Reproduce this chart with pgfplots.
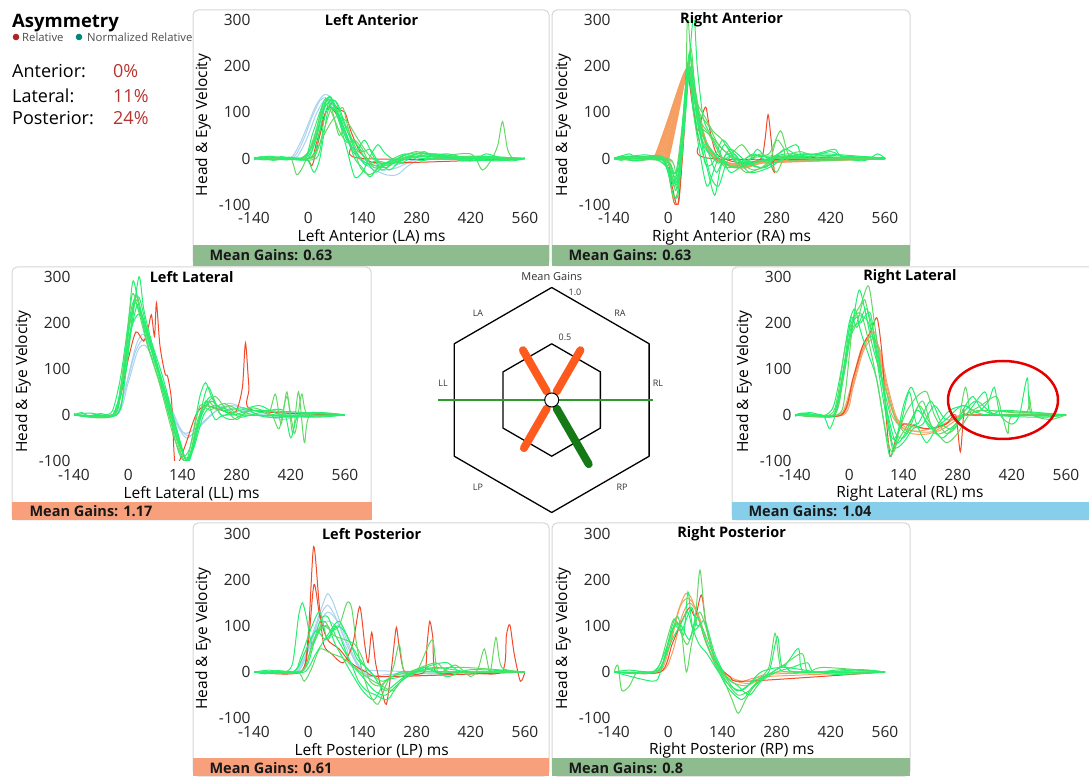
\documentclass[border=0pt]{standalone}
\usepackage{pgfplots}
\pgfplotsset{compat=1.18}
\usepackage{fontspec}
\setmainfont{Open Sans}
\definecolor{cardb}{HTML}{D6D6D6}
\definecolor{barG}{HTML}{8FBC8F}
\definecolor{barS}{HTML}{F8A07C}
\definecolor{barB}{HTML}{87CEEB}
\definecolor{gB}{HTML}{22F06E}
\definecolor{gM}{HTML}{64D864}
\definecolor{hB}{HTML}{A8D2EE}
\definecolor{hO}{HTML}{F5A062}
\definecolor{rR}{HTML}{F24A2A}
\definecolor{pctR}{HTML}{B8332E}
\definecolor{barOr}{HTML}{FF5A1E}
\definecolor{barDG}{HTML}{157A15}
\definecolor{lineG}{HTML}{2E9A2E}
\definecolor{dotR}{HTML}{B22222}
\definecolor{dotT}{HTML}{00897B}
\newcommand{\fs}[1]{\fontsize{#1}{#1}\selectfont}
\tikzset{gb/.style={color=gB}, gm/.style={color=gM}, hb/.style={color=hB}, ho/.style={color=hO}, rr/.style={color=rR}}
\pgfplotsset{
 panel/.style={
   scale only axis, width=271pt, height=184.4pt, anchor=south west,
   xmin=-140,xmax=560,ymin=-100,ymax=300,
   xtick={-140,0,140,280,420,560}, ytick={-100,0,100,200,300},
   axis line style={draw=none}, major tick length=0pt,
   /pgf/number format/assume math mode=true,
   tick label style={font=\fs{15.5}, text=black!85},
   xticklabel style={yshift=-4.5pt},
   ylabel={Head \& Eye Velocity},
   ylabel style={at={(axis description cs:-0.188,0.432)}, anchor=center, font=\fs{15.5}},
   xlabel style={at={(axis description cs:0.434,-0.176)}, anchor=center, font=\fs{15.5}},
   title style={at={(axis description cs:0.434,1)}, anchor=center, yshift=-6pt, font=\bfseries\fs{14.5}},
   every axis plot/.append style={no markers, line width=1pt, smooth, tension=0.45},
 },
}
\begin{document}
\begin{tikzpicture}[x=1pt,y=1pt]
\useasboundingbox (0,0) rectangle (1089,776);
% cards
\draw[cardb, line width=1pt, rounded corners=5pt] (193,510) rectangle (549,766);
\draw[cardb, line width=1pt, rounded corners=5pt] (552,510) rectangle (910,766);
\draw[cardb, line width=1pt, rounded corners=5pt] (12,256) rectangle (371,509);
\draw[cardb, line width=1pt, rounded corners=5pt] (732,256) rectangle (1095,509);
\draw[cardb, line width=1pt, rounded corners=5pt] (193,0) rectangle (549,253);
\draw[cardb, line width=1pt, rounded corners=5pt] (552,0) rectangle (910,253);
% asymmetry block
\node[anchor=base west, font=\bfseries\fs{18.5}, inner sep=0pt] at (12,748) {Asymmetry};
\fill[dotR] (16,739) circle (3.3);
\node[anchor=west, font=\fs{11.3}, text=black!70, inner sep=0pt] at (22,739) {Relative};
\fill[dotT] (79,739) circle (3.3);
\node[anchor=west, font=\fs{11.3}, text=black!70, inner sep=0pt] at (87,739) {Normalized Relative};
\node[anchor=base west, font=\fs{18}, inner sep=0pt] at (12,698) {Anterior:};
\node[anchor=base west, font=\fs{18}, inner sep=0pt] at (12,673) {Lateral:};
\node[anchor=base west, font=\fs{18}, inner sep=0pt] at (12,651) {Posterior:};
\node[anchor=base west, font=\fs{18}, text=pctR, inner sep=0pt] at (113,698) {0\%};
\node[anchor=base west, font=\fs{18}, text=pctR, inner sep=0pt] at (113,673) {11\%};
\node[anchor=base west, font=\fs{18}, text=pctR, inner sep=0pt] at (113,651) {24\%};

% ---------- Left Anterior ----------
\begin{axis}[panel, at={(254pt,571.4pt)}, title={Left Anterior}, xlabel={Left Anterior (LA) ms}]
\addplot[hb] coordinates {(-140,0)(-60,0)(-40,5)(-20,35)(0,75)(20,115)(40,138)(55,135)(70,110)(90,65)(110,25)(130,0)(160,-20)(200,-35)(230,-35)(260,-15)(300,0)(400,0)(560,0)};
\addplot[hb] coordinates {(-140,0)(-50,0)(-30,10)(-10,45)(10,90)(30,125)(45,132)(60,120)(80,80)(100,40)(120,10)(150,-10)(190,-25)(230,-20)(270,-5)(320,0)(560,0)};
\addplot[hb] coordinates {(-140,0)(-40,0)(-20,15)(0,50)(20,95)(40,125)(55,128)(75,100)(95,55)(120,15)(150,-5)(200,-15)(250,-10)(300,0)(560,0)};
\addplot[rr] coordinates {(-140,0)(0,0)(20,30)(40,90)(60,120)(80,105)(95,100)(110,60)(130,20)(150,0)(200,-10)(560,0)};
\addplot[rr] coordinates {(-140,0)(-10,0)(10,-15)(30,50)(50,110)(70,100)(90,70)(110,30)(140,0)(560,0)};
\addplot[gb] coordinates {(-140,0)(-120,4)(-100,-3)(-80,3)(-60,-2)(-20,0)(0,5)(20,40)(40,110)(55,135)(70,115)(90,70)(110,30)(130,5)(150,-10)(180,-15)(220,-5)(260,5)(300,0)(400,3)(500,-2)(560,0)};
\addplot[gm] coordinates {(-140,2)(-80,-3)(-45,0)(-30,-35)(-15,-20)(0,10)(20,60)(40,120)(60,100)(80,60)(100,35)(120,40)(140,20)(160,-10)(200,-20)(240,5)(280,12)(320,0)(420,5)(560,0)};
\addplot[gb] coordinates {(-140,0)(-40,0)(0,0)(20,20)(45,120)(60,125)(80,80)(100,20)(120,-40)(140,-30)(160,5)(180,30)(200,10)(240,-10)(280,10)(340,8)(400,0)(560,0)};
\addplot[gm] coordinates {(-140,0)(-20,0)(10,30)(30,90)(50,130)(65,95)(80,50)(100,70)(115,30)(135,-20)(160,-35)(190,-15)(230,0)(280,15)(330,5)(420,10)(450,-25)(475,0)(490,30)(502,80)(515,20)(530,0)(560,0)};
\addplot[gb] coordinates {(-140,0)(-100,3)(-60,-3)(-20,0)(0,-5)(15,-30)(30,0)(50,100)(65,120)(80,90)(100,50)(120,0)(140,-20)(160,-40)(180,-20)(220,-5)(260,10)(300,5)(360,10)(420,0)(560,0)};
\addplot[gm] coordinates {(-140,0)(0,0)(20,10)(40,60)(60,110)(75,100)(90,110)(105,60)(125,20)(150,0)(170,-20)(200,-15)(240,-5)(280,10)(300,15)(340,5)(560,0)};
\addplot[gb] coordinates {(-140,0)(-110,-3)(-70,4)(-10,0)(10,50)(30,100)(45,130)(60,110)(80,95)(100,45)(120,10)(145,40)(165,10)(190,-25)(220,-10)(260,5)(300,12)(380,0)(440,5)(560,0)};
\addplot[gm] coordinates {(-140,0)(0,0)(20,15)(40,50)(70,90)(100,80)(130,40)(160,5)(200,-15)(240,0)(300,5)(560,0)};
\addplot[gb] coordinates {(-140,0)(-90,3)(20,0)(40,80)(55,125)(75,120)(95,75)(115,30)(135,0)(150,-15)(175,-5)(210,-10)(260,0)(320,10)(380,5)(480,-5)(560,0)};
\addplot[gb] coordinates {(-140,0)(-100,5)(-60,0)(0,0)(25,60)(45,125)(60,130)(80,85)(100,40)(120,35)(140,15)(160,20)(180,-5)(210,-25)(240,-5)(300,5)(420,-5)(460,10)(520,-5)(560,0)};
\addplot[gb] coordinates {(-140,-3)(-120,2)(-90,-4)(-50,3)(-20,0)(10,25)(35,95)(50,120)(70,125)(90,80)(110,45)(130,25)(150,-5)(175,-30)(200,-10)(250,10)(290,-5)(350,5)(410,-5)(560,0)};
\end{axis}

% ---------- Right Anterior ----------
\begin{axis}[panel, at={(614pt,571.4pt)}, title={Right Anterior}, xlabel={Right Anterior (RA) ms}]
\addplot[ho, line width=1.6pt] coordinates {(-140,0)(-45,0)(-35,3)(-10,60)(15,120)(40,180)(52,190)(65,150)(85,70)(110,15)(150,-10)(220,-10)(300,0)(560,0)};
\addplot[ho, line width=1.6pt] coordinates {(-140,0)(-40,0)(-31,4)(-5,70)(20,135)(43,188)(56,185)(72,120)(92,45)(120,5)(170,-12)(250,-5)(560,0)};
\addplot[ho, line width=1.6pt] coordinates {(-140,0)(-38,0)(-28,5)(0,75)(25,140)(45,190)(58,180)(75,110)(95,40)(125,0)(180,-15)(260,-5)(560,0)};
\addplot[ho, line width=1.6pt] coordinates {(-140,0)(-34,0)(-24,5)(3,75)(28,148)(47,192)(59,175)(76,108)(96,38)(122,0)(175,-14)(250,-6)(560,0)};
\addplot[ho, line width=1.6pt] coordinates {(-140,0)(-30,0)(-20,5)(5,75)(30,150)(48,195)(60,170)(75,110)(95,40)(120,0)(160,-15)(220,-10)(300,0)(560,0)};
\addplot[ho, line width=1.6pt] coordinates {(-140,0)(-26,0)(-16,5)(8,72)(33,152)(49,195)(61,165)(78,100)(98,35)(125,-2)(170,-18)(230,-10)(560,0)};
\addplot[ho, line width=1.6pt] coordinates {(-140,0)(-22,0)(-12,5)(10,70)(35,155)(50,195)(62,160)(80,90)(100,30)(130,-5)(180,-20)(240,-10)(300,0)(560,0)};
\addplot[ho, line width=1.6pt] coordinates {(-140,0)(-18,0)(-8,5)(14,75)(38,160)(51,192)(64,155)(81,85)(100,28)(130,-5)(190,-18)(260,-5)(560,0)};
\addplot[ho, line width=1.6pt] coordinates {(-140,0)(-15,0)(-5,5)(18,80)(40,165)(52,190)(65,150)(82,80)(100,25)(130,-5)(200,-15)(280,0)(560,0)};
\addplot[ho, line width=1.6pt] coordinates {(-140,0)(-11,0)(-1,5)(22,88)(43,172)(54,190)(67,145)(84,75)(103,22)(135,-8)(200,-18)(280,0)(560,0)};
\addplot[ho, line width=1.6pt] coordinates {(-140,0)(-8,0)(2,5)(25,95)(45,180)(55,190)(68,140)(85,70)(105,20)(140,-10)(200,-20)(280,0)(560,0)};
\addplot[rr] coordinates {(-140,0)(-20,0)(0,-30)(15,-95)(28,-90)(40,60)(48,200)(60,150)(75,60)(90,100)(98,110)(108,60)(125,10)(160,-5)(200,-10)(240,0)(250,40)(258,95)(266,40)(275,-30)(285,0)(560,0)};
\addplot[rr] coordinates {(-140,0)(-10,0)(10,-60)(25,-100)(40,40)(50,180)(62,120)(80,40)(110,0)(560,0)};
\addplot[gb] coordinates {(-140,0)(-120,-4)(-100,4)(-60,3)(-20,0)(0,-20)(15,-60)(30,-20)(45,120)(55,200)(65,150)(80,60)(100,20)(130,-10)(160,5)(200,-10)(260,0)(300,5)(400,-4)(500,4)(560,0)};
\addplot[gm] coordinates {(-140,0)(-100,5)(-40,-3)(-5,-10)(15,-90)(30,-40)(45,150)(50,310)(60,200)(75,80)(95,40)(120,10)(150,-20)(190,-10)(240,10)(280,0)(560,0)};
\addplot[gb] coordinates {(-140,0)(-10,0)(10,-40)(25,-50)(45,100)(65,310)(75,200)(90,90)(110,50)(130,20)(160,-30)(200,-10)(250,5)(560,0)};
\addplot[gm] coordinates {(-140,0)(0,0)(20,-30)(35,0)(55,220)(70,150)(85,80)(100,60)(120,30)(140,0)(170,-20)(210,5)(260,10)(290,60)(310,10)(340,0)(560,0)};
\addplot[gb] coordinates {(-140,0)(-50,5)(-10,0)(10,-70)(25,-80)(40,50)(55,200)(65,120)(80,40)(100,-20)(120,-80)(135,-20)(160,20)(200,-5)(250,-20)(300,20)(350,0)(420,15)(460,0)(560,0)};
\addplot[gm] coordinates {(-140,0)(-80,-5)(-20,0)(5,-10)(20,-40)(40,80)(52,190)(62,160)(80,100)(105,70)(130,30)(160,10)(190,30)(220,0)(260,-10)(280,-30)(300,0)(340,15)(400,0)(560,0)};
\addplot[gb] coordinates {(-140,0)(-40,0)(0,-20)(15,-55)(35,40)(50,160)(60,180)(75,100)(90,30)(110,-40)(130,-60)(150,-10)(170,10)(200,-15)(230,20)(260,0)(330,30)(360,0)(560,0)};
\addplot[gm] coordinates {(-140,0)(-30,0)(0,-10)(20,-30)(40,100)(58,240)(70,140)(85,70)(110,50)(140,20)(180,-5)(220,-25)(260,-10)(280,40)(300,20)(320,-5)(560,0)};
\addplot[gb] coordinates {(-140,0)(-100,10)(-80,0)(-20,5)(10,-50)(28,-20)(48,180)(60,150)(78,90)(100,30)(130,0)(170,-20)(220,-10)(300,5)(380,10)(430,20)(450,5)(560,0)};
\addplot[gb] coordinates {(-140,0)(-10,0)(15,-30)(30,-10)(50,170)(62,190)(80,80)(95,-10)(115,-10)(140,40)(170,10)(210,-30)(260,-20)(300,0)(360,10)(500,-5)(540,10)(560,0)};
\addplot[gm] coordinates {(-140,0)(-20,3)(5,-20)(20,-70)(35,20)(50,200)(60,170)(75,120)(95,90)(115,60)(140,40)(170,0)(200,-30)(240,-20)(280,5)(330,0)(560,0)};
\addplot[gb] coordinates {(-140,0)(-60,8)(-30,0)(10,-30)(25,-60)(42,130)(55,230)(68,130)(85,40)(105,10)(125,-30)(150,10)(180,-10)(220,10)(260,-5)(310,10)(560,0)};
\addplot[gb] coordinates {(-140,0)(-120,5)(-90,-5)(-20,0)(12,-45)(30,-30)(50,190)(65,100)(80,20)(100,-60)(120,-20)(145,30)(175,0)(240,-20)(300,0)(400,10)(560,0)};
\end{axis}

% ---------- Left Lateral ----------
\begin{axis}[panel, at={(74pt,315pt)}, title={Left Lateral}, xlabel={Left Lateral (LL) ms}]
\addplot[hb] coordinates {(-140,0)(-40,0)(-20,20)(0,80)(20,140)(40,165)(60,140)(90,70)(120,-10)(150,-50)(180,-30)(220,5)(260,20)(300,15)(350,0)(560,0)};
\addplot[hb] coordinates {(-140,0)(-30,0)(0,70)(25,140)(45,150)(70,110)(100,40)(135,-30)(160,-45)(200,-10)(260,25)(320,5)(400,-10)(450,0)(560,0)};
\addplot[hb] coordinates {(-140,0)(-35,0)(-10,50)(20,150)(40,175)(65,130)(95,55)(125,-20)(150,-40)(190,-20)(240,15)(300,10)(560,0)};
\addplot[rr] coordinates {(-140,0)(-40,0)(-20,40)(0,120)(20,180)(40,160)(52,190)(60,217)(68,170)(73,243)(82,150)(95,90)(102,83)(112,30)(120,-100)(132,-100)(150,-60)(175,0)(200,20)(260,5)(280,10)(295,60)(303,156)(312,60)(322,10)(560,0)};
\addplot[gb] coordinates {(-140,0)(-120,5)(-100,-3)(-60,0)(-40,10)(-20,80)(0,200)(12,290)(25,250)(45,170)(70,100)(100,20)(130,-80)(150,-100)(165,-50)(185,40)(200,70)(215,40)(240,0)(270,-10)(320,10)(380,0)(560,0)};
\addplot[gm] coordinates {(-140,0)(-40,0)(-20,60)(0,180)(20,260)(35,220)(60,150)(90,60)(120,-40)(145,-100)(160,-90)(180,-10)(205,30)(230,10)(260,20)(300,5)(360,0)(380,45)(395,-20)(410,50)(425,-40)(440,50)(455,-60)(470,0)(560,0)};
\addplot[gb] coordinates {(-140,0)(-30,0)(-10,70)(10,200)(28,300)(40,230)(60,160)(90,80)(125,-30)(150,-100)(170,-60)(190,10)(215,40)(240,0)(290,10)(340,20)(400,0)(560,0)};
\addplot[gm] coordinates {(-140,0)(-40,0)(-15,80)(5,200)(22,250)(40,200)(70,110)(100,30)(130,-60)(155,-100)(175,-30)(200,20)(225,40)(250,15)(280,-10)(320,15)(370,0)(390,-30)(410,40)(430,-40)(448,45)(465,0)(560,0)};
\addplot[gb] coordinates {(-140,0)(-40,0)(-20,40)(5,170)(25,240)(45,180)(75,100)(105,0)(140,-80)(158,-100)(180,-20)(205,60)(230,20)(270,0)(330,10)(560,0)};
\addplot[gm] coordinates {(-140,0)(-35,0)(-10,120)(10,260)(25,230)(50,150)(80,70)(115,-40)(140,-90)(160,-70)(185,20)(210,10)(250,25)(300,0)(560,0)};
\addplot[gb] coordinates {(-140,0)(-100,4)(-40,0)(-18,50)(5,180)(30,220)(55,170)(85,80)(120,-20)(150,-100)(170,-70)(195,0)(220,20)(260,10)(290,-5)(340,5)(400,10)(420,-50)(440,0)(500,5)(560,0)};
\addplot[gb] coordinates {(-140,0)(-30,0)(-5,100)(15,240)(35,210)(65,130)(100,40)(135,-60)(152,-100)(175,-40)(200,30)(225,-10)(260,0)(480,-5)(560,0)};
\addplot[gb] coordinates {(-140,3)(-110,-3)(-70,3)(-40,0)(-15,70)(8,230)(28,255)(50,180)(80,90)(115,-10)(145,-90)(165,-80)(190,0)(215,30)(245,10)(300,15)(360,-5)(560,0)};
\end{axis}

% ---------- Right Lateral ----------
\begin{axis}[panel, at={(795pt,315pt)}, title={Right Lateral}, xlabel={Right Lateral (RL) ms},
  title style={at={(axis description cs:0.424,1)}}, xlabel style={at={(axis description cs:0.424,-0.176)}}]
\addplot[ho] coordinates {(-140,0)(-30,0)(-10,20)(10,80)(30,140)(50,170)(70,160)(90,80)(110,0)(140,-30)(180,-35)(230,-25)(280,-5)(320,0)(560,0)};
\addplot[ho] coordinates {(-140,0)(-25,0)(0,40)(25,120)(45,160)(65,180)(80,120)(100,40)(125,-15)(160,-40)(210,-40)(260,-15)(300,0)(560,0)};
\addplot[ho] coordinates {(-140,0)(-20,0)(5,50)(30,130)(55,170)(75,150)(95,70)(120,-5)(160,-25)(220,-30)(270,-10)(310,0)(560,0)};
\addplot[ho] coordinates {(-140,0)(-15,0)(10,60)(35,135)(60,165)(80,140)(100,60)(125,-10)(165,-35)(230,-35)(280,-10)(320,0)(560,0)};
\addplot[rr] coordinates {(-140,0)(-20,0)(10,80)(35,150)(55,180)(72,210)(85,130)(95,0)(106,-90)(118,-60)(140,-20)(200,-30)(250,-20)(275,0)(287,-80)(297,10)(310,0)(560,0)};
\addplot[gb] coordinates {(-140,0)(-120,4)(-90,-3)(-60,0)(-40,20)(-20,100)(0,200)(15,230)(30,180)(50,130)(70,80)(90,-20)(105,-90)(120,-60)(140,20)(160,60)(180,20)(210,-30)(250,-10)(290,20)(320,10)(360,0)(560,0)};
\addplot[gm] coordinates {(-140,0)(-50,0)(-30,40)(-10,150)(10,210)(30,240)(50,280)(65,200)(85,80)(100,-20)(115,-80)(130,-30)(150,10)(175,40)(200,50)(220,0)(250,-40)(280,-20)(300,60)(315,0)(340,10)(560,0)};
\addplot[gb] coordinates {(-140,0)(-40,0)(-15,80)(5,180)(25,270)(40,230)(60,150)(80,90)(100,20)(120,-40)(140,-50)(170,-20)(200,-60)(230,-20)(260,10)(300,20)(330,5)(360,30)(375,60)(390,0)(420,-20)(440,0)(460,80)(472,0)(560,0)};
\addplot[gm] coordinates {(-140,0)(-30,0)(-10,50)(10,200)(30,220)(50,160)(75,60)(95,-40)(110,-80)(130,-50)(160,-10)(190,30)(220,-40)(260,-30)(300,0)(340,20)(380,40)(395,0)(410,-40)(425,0)(560,0)};
\addplot[gb] coordinates {(-140,0)(-70,0)(-50,-30)(-30,20)(-10,120)(10,190)(30,200)(55,220)(75,100)(95,0)(115,-70)(140,-60)(165,-30)(190,-20)(220,20)(250,-10)(300,0)(350,50)(365,0)(400,10)(560,0)};
\addplot[gm] coordinates {(-140,0)(-40,0)(-20,60)(0,160)(20,200)(40,250)(60,170)(80,90)(100,40)(120,-10)(150,-40)(180,20)(210,-20)(250,-60)(280,-40)(310,0)(350,10)(455,5)(465,40)(475,0)(520,-10)(560,0)};
\addplot[gb] coordinates {(-140,0)(-100,5)(-40,0)(-15,100)(5,210)(20,190)(45,230)(70,150)(90,50)(110,-50)(130,-30)(155,50)(175,-20)(210,30)(240,-20)(270,-30)(300,10)(330,30)(380,0)(500,-5)(560,0)};
\addplot[gb] coordinates {(-140,-3)(-110,3)(-70,-3)(-40,0)(-20,70)(5,190)(25,215)(50,200)(75,120)(95,20)(120,-60)(145,-40)(175,10)(205,-20)(240,-50)(275,-20)(300,20)(320,40)(345,10)(400,0)(560,0)};
\end{axis}
\draw[red!90!black, line width=2.5pt] (1003,376) ellipse [x radius=55, y radius=39];

% ---------- Left Posterior ----------
\begin{axis}[panel, at={(254pt,57.9pt)}, title={Left Posterior}, xlabel={Left Posterior (LP) ms}]
\addplot[hb] coordinates {(-140,0)(-40,0)(-20,20)(10,80)(35,140)(50,170)(65,150)(90,90)(120,30)(150,-5)(200,-10)(260,0)(560,0)};
\addplot[hb] coordinates {(-140,0)(-30,0)(0,50)(30,120)(50,145)(70,120)(100,60)(130,10)(160,-10)(220,-5)(560,0)};
\addplot[hb] coordinates {(-140,0)(-35,0)(-5,40)(25,100)(50,130)(75,110)(105,50)(140,0)(180,-10)(560,0)};
\addplot[hb] coordinates {(-140,0)(-40,0)(-10,30)(20,80)(45,110)(70,100)(100,50)(140,5)(560,0)};
\addplot[rr] coordinates {(-140,0)(-20,0)(0,80)(14,272)(28,150)(40,60)(60,40)(90,20)(115,60)(133,142)(146,60)(155,20)(164,86)(174,20)(190,-40)(202,-70)(214,0)(222,60)(228,97)(236,50)(250,0)(300,0)(307,60)(314,110)(322,74)(330,0)(400,0)(500,0)(512,80)(521,102)(532,40)(548,-20)(560,0)};
\addplot[rr] coordinates {(-140,0)(-20,0)(0,60)(15,190)(30,120)(50,70)(80,50)(110,20)(150,0)(200,-10)(560,0)};
\addplot[gb] coordinates {(-140,0)(-100,4)(-60,0)(-40,20)(-25,120)(-15,150)(-5,120)(10,60)(30,90)(50,100)(70,60)(90,30)(110,0)(140,-40)(170,-60)(200,-20)(240,-10)(300,10)(350,0)(560,0)};
\addplot[gm] coordinates {(-140,0)(-20,0)(0,30)(20,80)(40,100)(60,90)(80,100)(100,150)(112,140)(125,60)(140,0)(160,-50)(180,-70)(200,-30)(220,10)(235,60)(248,0)(280,0)(320,70)(335,0)(380,15)(420,-10)(440,10)(455,50)(470,0)(485,75)(500,10)(560,0)};
\addplot[gb] coordinates {(-140,0)(-30,0)(0,20)(30,110)(50,120)(70,80)(90,50)(110,20)(130,-20)(150,-40)(175,-50)(205,-60)(230,-30)(260,-5)(320,15)(360,20)(400,0)(560,0)};
\addplot[gm] coordinates {(-140,0)(-30,0)(-10,-20)(10,10)(30,50)(60,40)(90,30)(120,10)(150,-10)(190,-30)(220,-40)(250,-10)(300,5)(400,10)(560,0)};
\addplot[gb] coordinates {(-140,0)(-40,0)(-20,30)(10,100)(30,130)(50,70)(70,100)(90,60)(110,20)(140,-10)(170,-40)(200,-50)(240,-20)(280,0)(330,10)(420,0)(560,0)};
\addplot[gm] coordinates {(-140,0)(-20,0)(10,60)(40,110)(65,80)(95,70)(120,60)(140,30)(160,-20)(185,-30)(215,-10)(260,0)(330,20)(370,0)(560,0)};
\addplot[gb] coordinates {(-140,0)(-40,0)(-10,40)(20,90)(45,70)(75,100)(100,80)(125,30)(150,10)(190,-20)(240,0)(300,0)(560,0)};
\addplot[gb] coordinates {(-140,0)(-110,-4)(-80,3)(-10,0)(20,40)(50,80)(80,110)(110,60)(140,20)(170,-10)(200,-40)(250,-10)(310,5)(360,-10)(420,5)(560,0)};
\end{axis}

% ---------- Right Posterior ----------
\begin{axis}[panel, at={(614pt,57.9pt)}, title={Right Posterior}, xlabel={Right Posterior (RP) ms}]
\addplot[ho] coordinates {(-140,0)(-30,0)(0,50)(25,130)(45,170)(60,160)(80,110)(100,60)(130,10)(160,-20)(200,-30)(240,-15)(290,0)(560,0)};
\addplot[ho] coordinates {(-140,0)(-25,0)(5,60)(30,140)(50,160)(70,140)(95,70)(125,10)(160,-15)(210,-25)(260,-5)(560,0)};
\addplot[ho] coordinates {(-140,0)(-20,0)(10,40)(35,120)(55,150)(80,120)(105,50)(140,0)(190,-20)(250,-10)(560,0)};
\addplot[rr] coordinates {(-140,0)(-20,0)(10,60)(35,110)(55,140)(70,120)(86,167)(100,90)(125,20)(160,-10)(200,-20)(560,0)};
\addplot[gm] coordinates {(-140,0)(-130,15)(-120,-40)(-100,-30)(-80,0)(-40,0)(-20,20)(0,80)(15,115)(30,90)(50,60)(70,120)(82,221)(95,120)(115,40)(140,-10)(165,-60)(181,-90)(200,-60)(230,-20)(260,10)(276,84)(288,20)(310,0)(560,0)};
\addplot[gb] coordinates {(-140,0)(-100,4)(-30,0)(-10,30)(10,100)(25,120)(40,80)(51,174)(62,100)(80,60)(100,40)(130,0)(160,-30)(190,-40)(220,-20)(260,0)(282,77)(295,10)(336,51)(350,0)(450,5)(560,0)};
\addplot[gm] coordinates {(-140,0)(-30,0)(0,60)(20,110)(35,80)(47,0)(60,60)(80,130)(100,90)(120,30)(150,-20)(180,-50)(210,-40)(250,-10)(290,10)(345,40)(360,0)(400,10)(560,0)};
\addplot[gb] coordinates {(-140,0)(-40,0)(-10,40)(15,100)(35,90)(60,140)(75,100)(95,110)(120,40)(150,-10)(180,-30)(210,-50)(240,-20)(280,0)(320,10)(360,20)(380,0)(500,5)(560,0)};
\addplot[gb] coordinates {(-140,0)(-40,-20)(-20,0)(10,90)(30,105)(55,70)(75,120)(95,70)(120,20)(150,-30)(190,-60)(220,-30)(270,0)(300,15)(330,0)(560,0)};
\addplot[gb] coordinates {(-140,0)(-50,0)(-20,10)(10,70)(30,100)(50,130)(65,90)(85,100)(110,50)(140,0)(175,-40)(205,-30)(240,0)(300,10)(430,-5)(560,0)};
\end{axis}

% ---------- radar ----------
\begin{axis}[at={(551.7pt,376pt)}, anchor=center, x=97.4pt, y=97.4pt,
  xmin=-1.3,xmax=1.3,ymin=-1.3,ymax=1.3, hide axis, clip=false]
\addplot[black, line width=1.3pt, no markers, data cs=polar, line join=round] coordinates {(90,1.155)(30,1.155)(-30,1.155)(-90,1.155)(-150,1.155)(150,1.155)(90,1.155)};
\addplot[black, line width=1.3pt, no markers, data cs=polar, line join=round] coordinates {(90,0.577)(30,0.577)(-30,0.577)(-90,0.577)(-150,0.577)(150,0.577)(90,0.577)};
\addplot[lineG, line width=1.2pt, no markers, data cs=polar] coordinates {(180,1.17)(0,0)};
\addplot[lineG, line width=1.2pt, no markers, data cs=polar] coordinates {(0,0)(0,1.04)};
\addplot[barOr, line width=8pt, line cap=round, no markers, data cs=polar] coordinates {(120,0.1)(120,0.59)};
\addplot[barOr, line width=8pt, line cap=round, no markers, data cs=polar] coordinates {(60,0.1)(60,0.59)};
\addplot[barOr, line width=8pt, line cap=round, no markers, data cs=polar] coordinates {(240,0.1)(240,0.57)};
\addplot[barDG, line width=8pt, line cap=round, no markers, data cs=polar] coordinates {(300,0.1)(300,0.76)};
\addplot[only marks, mark=*, mark size=7pt, mark options={fill=white, draw=black, line width=1pt}] coordinates {(0,0)};
\end{axis}
\node[font=\fs{11}, text=black!80] at (551.7,499) {Mean Gains};
\node[font=\fs{9}, text=black!80] at (575,484) {1.0};
\node[font=\fs{9}, text=black!80] at (565,439) {0.5};
\node[font=\fs{9}, text=black!80] at (478,463) {LA};
\node[font=\fs{9}, text=black!80] at (620,463) {RA};
\node[font=\fs{9}, text=black!80] at (443,393) {LL};
\node[font=\fs{9}, text=black!80] at (658,393) {RL};
\node[font=\fs{9}, text=black!80] at (478,289) {LP};
\node[font=\fs{9}, text=black!80] at (622,289) {RP};

% mean gain bars
\fill[barG] (193,510) rectangle (549,531);
\node[anchor=west, font=\bfseries\fs{14.5}, text=black!90] at (206,520.5) {Mean Gains: 0.63};
\fill[barG] (552,510) rectangle (910,531);
\node[anchor=west, font=\bfseries\fs{14.5}, text=black!90] at (565,520.5) {Mean Gains: 0.63};
\fill[barS] (12,256) rectangle (372,274);
\node[anchor=west, font=\bfseries\fs{14.5}, text=black!90] at (26,265) {Mean Gains: 1.17};
\fill[barB] (732,256) rectangle (1089,274);
\node[anchor=west, font=\bfseries\fs{14.5}, text=black!90] at (745,265) {Mean Gains: 1.04};
\fill[barS] (193,0) rectangle (549,18);
\node[anchor=west, font=\bfseries\fs{14.5}, text=black!90] at (206,8) {Mean Gains: 0.61};
\fill[barG] (552,0) rectangle (910,18);
\node[anchor=west, font=\bfseries\fs{14.5}, text=black!90] at (565,8) {Mean Gains: 0.8};
\end{tikzpicture}
\end{document}
